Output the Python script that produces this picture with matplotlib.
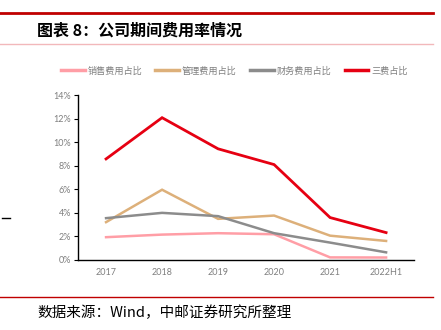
import matplotlib
matplotlib.use("Agg")
import matplotlib.pyplot as plt
from matplotlib.lines import Line2D

plt.rcParams['font.family'] = ['Noto Sans CJK SC', 'DejaVu Sans']

# data (%)
years = ['2017', '2018', '2019', '2020', '2021', '2022H1']
sales = [1.90, 2.12, 2.24, 2.15, 0.18, 0.17]
admin = [3.18, 5.94, 3.46, 3.74, 2.03, 1.58]
finance = [3.52, 3.97, 3.69, 2.24, 1.44, 0.61]
total = [8.56, 12.07, 9.42, 8.08, 3.57, 2.29]

names = ['销售费用占比', '管理费用占比', '财务费用占比', '三费占比']
colors = ['#FF9EA6', '#DDB07A', '#8C8C8C', '#E60012']
yticks = [0, 2, 4, 6, 8, 10, 12, 14]

fig = plt.figure(figsize=(4.41, 3.30), dpi=100)
ax = fig.add_axes([0.177, 0.2136, 0.762, 0.4985])

x = range(len(years))
for s, c in zip([sales, admin, finance, total], colors):
    lw = 2.0 if c == '#E60012' else 1.8
    ax.plot(x, s, color=c, lw=lw, solid_joinstyle='miter')

ax.set_xlim(-0.5, len(years) - 0.5)
ax.set_ylim(0, 14)
ax.set_yticks(yticks)
ax.set_yticklabels([f'{v}%' for v in yticks], family=['Lato', 'DejaVu Sans'])
ax.set_xticks(list(x))
ax.set_xticklabels(years, family=['Lato', 'DejaVu Sans'])
ax.tick_params(axis='y', length=3, width=0.8, colors='black', labelcolor='#7F7F7F',
               labelsize=6.5, pad=2)
ax.tick_params(axis='x', length=0, labelcolor='#7F7F7F', labelsize=6.5, pad=6)
for sp in ['top', 'right']:
    ax.spines[sp].set_visible(False)
ax.spines['left'].set_linewidth(1.0)
ax.spines['bottom'].set_linewidth(1.0)

handles = [Line2D([0], [0], color=c, lw=2.5) for c in colors]
fig.legend(handles, names, loc='center', bbox_to_anchor=(0.531, 0.785), ncol=4,
           frameon=False, fontsize=6.6, labelcolor='#7F7F7F', handlelength=2.6,
           handletextpad=0.3, columnspacing=1.45)

# header / footer decorations
fig.add_artist(Line2D([0, 0.982], [0.961, 0.961], color='#C00000', lw=2.0))
fig.add_artist(Line2D([0, 0.982], [0.867, 0.867], color='#F2B8BB', lw=1.0))
fig.add_artist(Line2D([0, 0.982], [0.1, 0.1], color='#C00000', lw=1.0))
fig.add_artist(Line2D([0.005, 0.022], [0.339, 0.339], color='black', lw=1.0))
fig.text(0.084, 0.908, '图表 8：公司期间费用率情况', fontsize=11.5, fontweight='bold',
         va='center', ha='left')
fig.text(0.084, 0.052, '数据来源：Wind，中邮证券研究所整理', fontsize=10.5,
         va='center', ha='left')

fig.savefig('out.png', dpi=100)
